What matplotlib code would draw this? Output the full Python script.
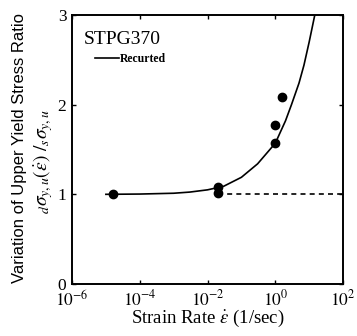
import matplotlib
matplotlib.use("Agg")
import matplotlib.pyplot as plt

plt.rcParams['font.family'] = ['Liberation Serif', 'DejaVu Serif']
plt.rcParams['mathtext.fontset'] = 'stix'

# measured points (strain rate, ratio)
rate_pts = [1.67e-5, 2.1e-2, 2.1e-2, 1.0, 1.0, 1.6]
ratio_pts = [1.0, 1.02, 1.08, 1.57, 1.77, 2.09]

# recurved curve
curve_rate = [1e-5, 1e-4, 1e-3, 3e-3, 1e-2, 0.03, 0.1, 0.3, 1.0, 2.0, 3.0, 5.0, 7.0, 10.0, 15.0, 16.5]
curve_ratio = [1.0, 1.003, 1.012, 1.025, 1.05, 1.09, 1.19, 1.34, 1.57, 1.82, 2.0, 2.24, 2.44, 2.70, 3.02, 3.1]

# static level
static_rate = [2.1e-2, 1e2]
static_ratio = [1.0, 1.0]

xticks = [1e-6, 1e-4, 1e-2, 1e0, 1e2]
xticklabels = [r'$10^{-6}$', r'$10^{-4}$', r'$10^{-2}$', r'$10^{0}$', r'$10^{2}$']
yticks = [0, 1, 2, 3]

fig = plt.figure(figsize=(3.57, 3.36), dpi=100)
ax = fig.add_axes([0.2017, 0.1548, 0.7593, 0.8006])

ax.plot(curve_rate, curve_ratio, color='black', lw=1.2, label='Recurted')
ax.plot(static_rate, static_ratio, color='black', lw=1.2, ls=(0, (3, 2.5)))
ax.plot(rate_pts, ratio_pts, 'o', color='black', ms=6)

ax.set_xscale('log')
ax.set_xlim(1e-6, 1e2)
ax.set_ylim(0, 3)
ax.set_xticks(xticks)
ax.set_xticklabels(xticklabels)
ax.minorticks_off()
ax.set_yticks(yticks)
ax.tick_params(direction='in', length=3, width=1, labelsize=12.5, top=True, right=True, pad=4)
for s in ax.spines.values():
    s.set_linewidth(1.4)

ax.set_xlabel(r'Strain Rate $\dot{\epsilon}$ (1/sec)', fontsize=13.5, labelpad=-1)

fig.text(0.055, 0.56, 'Variation of Upper Yield Stress Ratio', rotation=90,
         ha='center', va='center', fontsize=12, family='Liberation Sans')
fig.text(0.12, 0.52, r'${}_{d}\sigma_{y,u}(\dot{\epsilon})\ /{}_{s}\sigma_{y,u}$', rotation=90,
         ha='center', va='center', fontsize=14)

ax.text(0.045, 0.91, 'STPG370', transform=ax.transAxes, fontsize=14, va='center')
ax.legend(loc='upper left', bbox_to_anchor=(0.055, 0.89), frameon=False,
          handlelength=2.0, handletextpad=0.1, borderpad=0.2,
          prop={'weight': 'bold', 'size': 8.5})

fig.savefig('out.png', dpi=100)
